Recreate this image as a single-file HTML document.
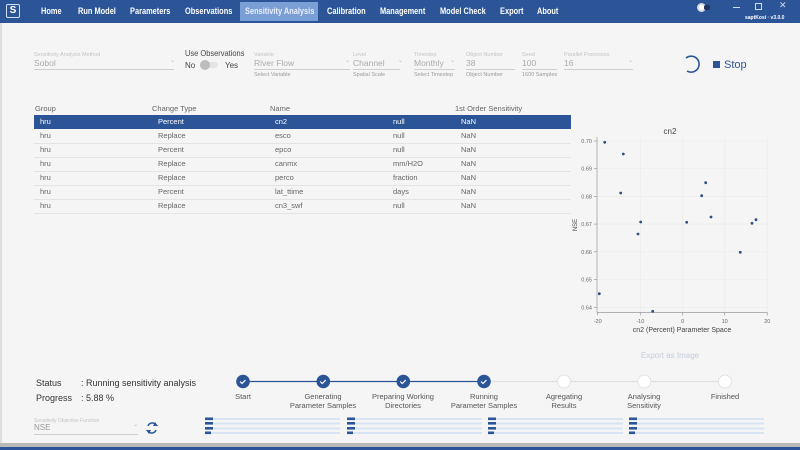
<!DOCTYPE html>
<html><head><meta charset="utf-8">
<style>
*{margin:0;padding:0;box-sizing:border-box}
body{width:800px;height:450px;overflow:hidden;background:#f5f5f5;font-family:"Liberation Sans",sans-serif;position:relative}
.a{position:absolute;white-space:nowrap}
.nav{left:0;top:0;width:800px;height:23px;background:#2c5597}
.ni{top:5.5px;font-size:9.5px;font-weight:bold;color:#fff;transform:scaleX(0.78);transform-origin:left center}
.lbl{font-size:5.5px;color:#c4c4c4}
.val{font-size:8.5px;color:#aaa}
.help{font-size:5.5px;color:#9a9a9a}
.ul{height:1px;background:#cfcfcf}
.th{font-size:7.5px;color:#666;top:104px}
.td{font-size:7.5px;color:#666}
.sep{left:34px;width:537px;height:1px;background:#e4e4e4}
.sl{font-size:7.5px;color:#555;text-align:center;width:100px;line-height:9px}
</style></head><body>
<div class="a" style="left:0;top:23px;width:2px;height:420px;background:#ddd"></div>
<div class="a nav"></div>
<div class="a" style="left:240px;top:2px;width:78px;height:19px;background:#7a9ed6"></div>
<div class="a" style="left:6px;top:4px;width:14px;height:14px;border:1.3px solid #cfe0f5;border-radius:2px;color:#fff;font-size:10px;font-weight:bold;line-height:11px;text-align:center">S</div>
<div class="a ni" style="left:41px">Home</div>
<div class="a ni" style="left:78px">Run Model</div>
<div class="a ni" style="left:130px">Parameters</div>
<div class="a ni" style="left:185px">Observations</div>
<div class="a ni" style="left:245px;color:#e8effa">Sensitivity Analysis</div>
<div class="a ni" style="left:327px">Calibration</div>
<div class="a ni" style="left:380px">Management</div>
<div class="a ni" style="left:440px">Model Check</div>
<div class="a ni" style="left:500px">Export</div>
<div class="a ni" style="left:537px">About</div>
<div class="a" style="left:697px;top:3px;width:9px;height:9px;border-radius:50%;background:#fff;border:2px solid #ddd"></div>
<div class="a" style="left:704px;top:5px;width:6px;height:5px;border-radius:2px;background:#1d3560"></div>
<div class="a" style="left:733px;top:7px;width:7px;height:1px;background:#cfdcf0"></div>
<div class="a" style="left:755px;top:3px;width:7px;height:7px;border:1px solid #cfdcf0"></div>
<div class="a" style="left:779px;top:0px;font-size:9px;color:#cfdcf0">✕</div>
<div class="a" style="left:745px;top:15px;font-size:5px;color:#fff;font-weight:bold">saptKosi · v3.0.0</div>

<!-- form -->
<div class="a lbl" style="left:34px;top:52px">Sensitivity Analysis Method</div>
<div class="a val" style="left:34px;top:58px">Sobol</div>
<div class="a ul" style="left:34px;top:69px;width:140px"></div>
<div class="a" style="left:170px;top:57px;font-size:6px;color:#bbb">⌄</div>
<div class="a" style="left:185px;top:48px;font-size:8.5px;color:#444;transform:scaleX(0.88);transform-origin:left center">Use Observations</div>
<div class="a" style="left:185px;top:61px;font-size:8px;color:#444">No</div>
<div class="a" style="left:202px;top:62px;width:16px;height:6px;border-radius:3px;background:#e4e4e4"></div>
<div class="a" style="left:200px;top:60px;width:10px;height:10px;border-radius:50%;background:#bdbdbd"></div>
<div class="a" style="left:225px;top:61px;font-size:8px;color:#444">Yes</div>

<div class="a lbl" style="left:254px;top:52px">Variable</div>
<div class="a val" style="left:254px;top:58px">River Flow</div>
<div class="a" style="left:345px;top:57px;font-size:6px;color:#bbb">⌄</div>
<div class="a ul" style="left:254px;top:69px;width:96px"></div>
<div class="a help" style="left:254px;top:72px">Select Variable</div>
<div class="a lbl" style="left:353px;top:52px">Level</div>
<div class="a val" style="left:353px;top:58px">Channel</div>
<div class="a ul" style="left:353px;top:69px;width:47px"></div>
<div class="a help" style="left:353px;top:72px">Spatial Scale</div>
<div class="a" style="left:398px;top:57px;font-size:6px;color:#bbb">⌄</div>
<div class="a lbl" style="left:414px;top:52px">Timestep</div>
<div class="a val" style="left:414px;top:58px">Monthly</div>
<div class="a" style="left:450px;top:57px;font-size:6px;color:#bbb">⌄</div>
<div class="a ul" style="left:414px;top:69px;width:41px"></div>
<div class="a help" style="left:414px;top:72px">Select Timestep</div>
<div class="a lbl" style="left:466px;top:52px">Object Number</div>
<div class="a val" style="left:466px;top:58px">38</div>
<div class="a ul" style="left:466px;top:69px;width:49px"></div>
<div class="a help" style="left:466px;top:72px">Object Number</div>
<div class="a lbl" style="left:522px;top:52px">Seed</div>
<div class="a val" style="left:522px;top:58px">100</div>
<div class="a ul" style="left:522px;top:69px;width:35px"></div>
<div class="a help" style="left:522px;top:72px">1600 Samples</div>
<div class="a lbl" style="left:564px;top:52px">Parallel Processes</div>
<div class="a val" style="left:564px;top:58px">16</div>
<div class="a" style="left:628px;top:57px;font-size:6px;color:#bbb">⌄</div>
<div class="a ul" style="left:564px;top:69px;width:69px"></div>

<div class="a" style="left:713px;top:61px;width:7px;height:7px;background:#2c5597"></div>
<div class="a" style="left:724px;top:59px;font-size:11px;color:#2c5597">Stop</div>

<!-- table -->
<div class="a th" style="left:35px">Group</div>
<div class="a th" style="left:152px">Change Type</div>
<div class="a th" style="left:270px">Name</div>
<div class="a th" style="left:455px">1st Order Sensitivity</div>
<div class="a" style="left:34px;top:115px;width:537px;height:14px;background:#2c5597"></div>
<div class="a td" style="left:40px;top:117px;color:#fff">hru</div><div class="a td" style="left:158px;top:117px;color:#fff">Percent</div><div class="a td" style="left:275px;top:117px;color:#fff">cn2</div><div class="a td" style="left:393px;top:117px;color:#fff">null</div><div class="a td" style="left:461px;top:117px;color:#fff">NaN</div>
<div class="a sep" style="top:143px"></div>
<div class="a td" style="left:40px;top:131px">hru</div><div class="a td" style="left:158px;top:131px">Replace</div><div class="a td" style="left:275px;top:131px">esco</div><div class="a td" style="left:393px;top:131px">null</div><div class="a td" style="left:461px;top:131px">NaN</div>
<div class="a sep" style="top:157px"></div>
<div class="a td" style="left:40px;top:145px">hru</div><div class="a td" style="left:158px;top:145px">Percent</div><div class="a td" style="left:275px;top:145px">epco</div><div class="a td" style="left:393px;top:145px">null</div><div class="a td" style="left:461px;top:145px">NaN</div>
<div class="a sep" style="top:171px"></div>
<div class="a td" style="left:40px;top:159px">hru</div><div class="a td" style="left:158px;top:159px">Replace</div><div class="a td" style="left:275px;top:159px">canmx</div><div class="a td" style="left:393px;top:159px">mm/H2O</div><div class="a td" style="left:461px;top:159px">NaN</div>
<div class="a sep" style="top:185px"></div>
<div class="a td" style="left:40px;top:173px">hru</div><div class="a td" style="left:158px;top:173px">Replace</div><div class="a td" style="left:275px;top:173px">perco</div><div class="a td" style="left:393px;top:173px">fraction</div><div class="a td" style="left:461px;top:173px">NaN</div>
<div class="a sep" style="top:199px"></div>
<div class="a td" style="left:40px;top:187px">hru</div><div class="a td" style="left:158px;top:187px">Percent</div><div class="a td" style="left:275px;top:187px">lat_ttime</div><div class="a td" style="left:393px;top:187px">days</div><div class="a td" style="left:461px;top:187px">NaN</div>
<div class="a sep" style="top:213px"></div>
<div class="a td" style="left:40px;top:201px">hru</div><div class="a td" style="left:158px;top:201px">Replace</div><div class="a td" style="left:275px;top:201px">cn3_swf</div><div class="a td" style="left:393px;top:201px">null</div><div class="a td" style="left:461px;top:201px">NaN</div>

<!-- status -->
<div class="a" style="left:36px;top:378px;font-size:9px;color:#333">Status</div>
<div class="a" style="left:81px;top:378px;font-size:9px;color:#333">: Running sensitivity analysis</div>
<div class="a" style="left:36px;top:393px;font-size:9px;color:#333">Progress</div>
<div class="a" style="left:81px;top:393px;font-size:9px;color:#333">: 5.88 %</div>
<div class="a" style="left:34px;top:418px;font-size:5px;color:#c4c4c4">Sensitivity Objective Function</div>
<div class="a" style="left:34px;top:423px;font-size:8px;color:#999">NSE</div>
<div class="a" style="left:133px;top:421px;font-size:6px;color:#bbb">⌄</div>
<div class="a ul" style="left:34px;top:434px;width:104px"></div>

<!-- stepper labels -->
<div class="a sl" style="left:193px;top:392px">Start</div>
<div class="a sl" style="left:273px;top:392px">Generating<br>Parameter Samples</div>
<div class="a sl" style="left:353px;top:392px">Preparing Working<br>Directories</div>
<div class="a sl" style="left:434px;top:392px">Running<br>Parameter Samples</div>
<div class="a sl" style="left:514px;top:392px">Agregating<br>Results</div>
<div class="a sl" style="left:594px;top:392px">Analysing<br>Sensitivity</div>
<div class="a sl" style="left:675px;top:392px">Finished</div>

<div class="a" style="left:0;top:443px;width:800px;height:4px;background:#b9b9b9"></div>
<div class="a" style="left:0;top:447px;width:800px;height:3px;background:#2c5597"></div>

<svg class="a" style="left:0;top:0" width="800" height="450" viewBox="0 0 800 450" font-family="Liberation Sans, sans-serif">
<!-- spinner -->
<path d="M686 58 A8 8 0 1 1 687 71" fill="none" stroke="#2c5597" stroke-width="1.6"/>
<!-- refresh icon -->
<g fill="none" stroke="#2c5597" stroke-width="1.5">
<path d="M148 426 A4.5 4.5 0 0 1 156 425"/><path d="M156 430 A4.5 4.5 0 0 1 148 431"/>
</g>
<path d="M155 422 L158 426 L153 426Z" fill="#2c5597"/><path d="M149 434 L146 430 L151 430Z" fill="#2c5597"/>
<!-- stepper -->
<line x1="243" y1="381.5" x2="484" y2="381.5" stroke="#2c5597" stroke-width="1.3"/>
<line x1="484" y1="381.5" x2="725" y2="381.5" stroke="#e0e0e0" stroke-width="1.3"/>
<g fill="#2c5597">
<circle cx="243" cy="381.5" r="6.8"/><circle cx="323.3" cy="381.5" r="6.8"/><circle cx="403.3" cy="381.5" r="6.8"/><circle cx="484" cy="381.5" r="6.8"/>
</g>
<g fill="none" stroke="#fff" stroke-width="1.2">
<path d="M240 381.5 l2 2 l3.5 -3.5"/><path d="M320.3 381.5 l2 2 l3.5 -3.5"/><path d="M400.3 381.5 l2 2 l3.5 -3.5"/><path d="M481 381.5 l2 2 l3.5 -3.5"/>
</g>
<g fill="#fff" stroke="#e2e2e2" stroke-width="1">
<circle cx="564" cy="381.5" r="6.5"/><circle cx="644.3" cy="381.5" r="6.5"/><circle cx="725" cy="381.5" r="6.5"/>
</g>
<!-- progress bars -->
<g fill="#d8e4f4">
<rect x="205" y="418" width="135" height="2"/><rect x="205" y="422.5" width="135" height="2"/><rect x="205" y="427.5" width="135" height="2"/><rect x="205" y="432" width="135" height="2"/>
<rect x="347" y="418" width="135" height="2"/><rect x="347" y="422.5" width="135" height="2"/><rect x="347" y="427.5" width="135" height="2"/><rect x="347" y="432" width="135" height="2"/>
<rect x="488" y="418" width="135" height="2"/><rect x="488" y="422.5" width="135" height="2"/><rect x="488" y="427.5" width="135" height="2"/><rect x="488" y="432" width="135" height="2"/>
<rect x="629" y="418" width="135" height="2"/><rect x="629" y="422.5" width="135" height="2"/><rect x="629" y="427.5" width="135" height="2"/><rect x="629" y="432" width="135" height="2"/>
</g>
<g fill="#2c5597">
<rect x="205" y="417.5" width="8" height="2.6"/><rect x="205" y="422" width="8" height="2.6"/><rect x="205" y="427" width="8" height="2.6"/><rect x="205" y="431.5" width="6" height="2.6"/>
<rect x="347" y="417.5" width="8" height="2.6"/><rect x="347" y="422" width="8" height="2.6"/><rect x="347" y="427" width="8" height="2.6"/><rect x="347" y="431.5" width="6" height="2.6"/>
<rect x="488" y="417.5" width="8" height="2.6"/><rect x="488" y="422" width="8" height="2.6"/><rect x="488" y="427" width="8" height="2.6"/><rect x="488" y="431.5" width="6" height="2.6"/>
<rect x="629" y="417.5" width="8" height="2.6"/><rect x="629" y="422" width="8" height="2.6"/><rect x="629" y="427" width="8" height="2.6"/><rect x="629" y="431.5" width="6" height="2.6"/>
</g>
<!-- chart -->
<text x="670" y="134" font-size="8" fill="#444" text-anchor="middle">cn2</text>
<g stroke="#ececec" stroke-width="0.7">
<line x1="640.3" y1="137" x2="640.3" y2="312"/><line x1="682.7" y1="137" x2="682.7" y2="312"/><line x1="724.7" y1="137" x2="724.7" y2="312"/><line x1="767.3" y1="137" x2="767.3" y2="312"/>
<line x1="597" y1="141" x2="767" y2="141"/><line x1="597" y1="168.7" x2="767" y2="168.7"/><line x1="597" y1="196.4" x2="767" y2="196.4"/><line x1="597" y1="224.1" x2="767" y2="224.1"/><line x1="597" y1="251.8" x2="767" y2="251.8"/><line x1="597" y1="279.5" x2="767" y2="279.5"/><line x1="597" y1="307.3" x2="767" y2="307.3"/>
</g>
<g stroke="#999" stroke-width="0.7">
<line x1="597" y1="137" x2="597" y2="312.5"/><line x1="597" y1="312.5" x2="767.5" y2="312.5"/>
<line x1="594" y1="141" x2="597" y2="141"/><line x1="594" y1="168.7" x2="597" y2="168.7"/><line x1="594" y1="196.4" x2="597" y2="196.4"/><line x1="594" y1="224.1" x2="597" y2="224.1"/><line x1="594" y1="251.8" x2="597" y2="251.8"/><line x1="594" y1="279.5" x2="597" y2="279.5"/><line x1="594" y1="307.3" x2="597" y2="307.3"/>
<line x1="597.7" y1="312.5" x2="597.7" y2="315.5"/><line x1="640.3" y1="312.5" x2="640.3" y2="315.5"/><line x1="682.7" y1="312.5" x2="682.7" y2="315.5"/><line x1="724.7" y1="312.5" x2="724.7" y2="315.5"/><line x1="767.3" y1="312.5" x2="767.3" y2="315.5"/>
</g>
<g font-size="5.5" fill="#666" text-anchor="end">
<text x="592" y="143">0.70</text><text x="592" y="170.7">0.69</text><text x="592" y="198.4">0.68</text><text x="592" y="226.1">0.67</text><text x="592" y="253.8">0.66</text><text x="592" y="281.5">0.65</text><text x="592" y="309.3">0.64</text>
</g>
<g font-size="5.5" fill="#666" text-anchor="middle">
<text x="597.7" y="323">-20</text><text x="640.3" y="323">-10</text><text x="682.7" y="323">0</text><text x="724.7" y="323">10</text><text x="767.3" y="323">20</text>
</g>
<text x="682" y="332" font-size="7" fill="#444" text-anchor="middle">cn2 (Percent) Parameter Space</text>
<text transform="translate(577,225) rotate(-90)" font-size="6" fill="#444" text-anchor="middle">NSE</text>
<g fill="#2c4f85">
<circle cx="604.7" cy="142.3" r="1.4"/><circle cx="623.3" cy="154" r="1.4"/><circle cx="620.7" cy="193" r="1.4"/><circle cx="640.7" cy="222" r="1.4"/><circle cx="638" cy="234" r="1.4"/><circle cx="599.3" cy="293.7" r="1.4"/><circle cx="652.7" cy="311.3" r="1.4"/><circle cx="686.7" cy="222.3" r="1.4"/><circle cx="701.7" cy="195.7" r="1.4"/><circle cx="705.7" cy="182.7" r="1.4"/><circle cx="711" cy="217" r="1.4"/><circle cx="740.3" cy="252.3" r="1.4"/><circle cx="752" cy="223.3" r="1.4"/><circle cx="756" cy="219.7" r="1.4"/>
</g>
<text x="670" y="358" font-size="8" fill="#c3cbdb" text-anchor="middle">Export as Image</text>
</svg>
</body></html>
